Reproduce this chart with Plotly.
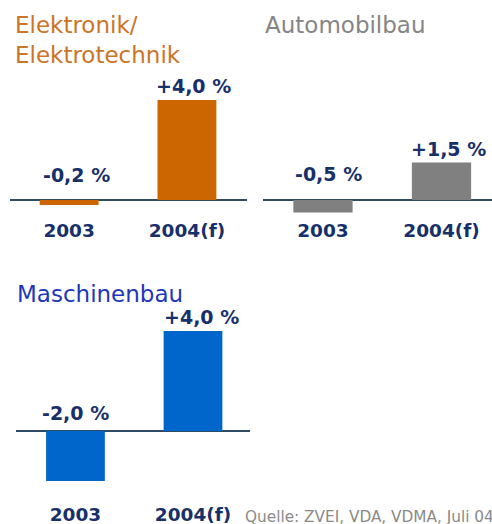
import plotly.graph_objects as go

W, H = 492, 524
PX_PER_UNIT = 25  # vertical scale shared by all three panels

# ---- data ----------------------------------------------------------------
years = ["2003", "2004(f)"]
elektro = [-0.2, 4.0]
automobil = [-0.5, 1.5]
maschinen = [-2.0, 4.0]
source_text = "Quelle: ZVEI, VDA, VDMA, Juli 04"

# ---- panel styling / placement (pixels) ---------------------------------
panels = [
    dict(title=["Elektronik/", "Elektrotechnik"], values=elektro,
         bar="#CC6600", tcolor="#CC7428",
         xpx=(10, 247), xrange=(-0.502, 1.51),
         ypx=(60, 217), zero=200,
         title_x=13, title_y=[25, 55], neg_shift=25, xshift=[7, 7]),
    dict(title=["Automobilbau"], values=automobil,
         bar="#808080", tcolor="#858585",
         xpx=(263, 492), xrange=(-0.506, 1.426),
         ypx=(60, 217), zero=200,
         title_x=263, title_y=[25], neg_shift=26, xshift=[6, 7]),
    dict(title=["Maschinenbau"], values=maschinen,
         bar="#0066CC", tcolor="#2236BC",
         xpx=(16, 250), xrange=(-0.506, 1.485),
         ypx=(300, 501), zero=431,
         title_x=15, title_y=[294], neg_shift=18, xshift=[0, 8]),
]

NAVY = "#17306A"
FONT = "DejaVu Sans"


def fmt(v):
    return f"{v:+.1f} %".replace(".", ",")


fig = go.Figure()
annotations = []

for i, p in enumerate(panels, start=1):
    sfx = "" if i == 1 else str(i)
    xa, ya = "x" + sfx, "y" + sfx

    fig.add_trace(go.Bar(
        x=years, y=p["values"], xaxis=xa, yaxis=ya,
        marker=dict(color=p["bar"], line=dict(width=0)),
        width=0.5, showlegend=False, hoverinfo="skip",
    ))

    top, bottom = p["ypx"]
    yrange = [-(bottom - p["zero"]) / PX_PER_UNIT, (p["zero"] - top) / PX_PER_UNIT]

    fig.update_layout(**{
        "xaxis" + sfx: dict(
            type="category",
            domain=[p["xpx"][0] / W, p["xpx"][1] / W],
            range=list(p["xrange"]), anchor=ya,
            showgrid=False, zeroline=False, showline=False, ticks="",
            tickfont=dict(family=FONT, size=18.5, color=NAVY, weight="bold"),
            fixedrange=True,
        ),
        "yaxis" + sfx: dict(
            domain=[1 - bottom / H, 1 - top / H],
            range=yrange, anchor=xa,
            showgrid=False, showticklabels=False, ticks="",
            zeroline=True, zerolinecolor="#2E4B66", zerolinewidth=1.5,
            fixedrange=True,
        ),
    })

    # value labels above each bar (negative values sit above the baseline)
    for j, v in enumerate(p["values"]):
        annotations.append(dict(
            x=j, y=max(v, 0), xref=xa, yref=ya,
            text=fmt(v), showarrow=False,
            xanchor="center", yanchor="middle",
            xshift=p["xshift"][j],
            yshift=p["neg_shift"] if v < 0 else 14,
            font=dict(family=FONT, size=19, color=NAVY, weight="bold"),
        ))

    # panel title
    for line, ty in zip(p["title"], p["title_y"]):
        annotations.append(dict(
            x=p["title_x"] / W, y=1 - ty / H, xref="paper", yref="paper",
            text=line, showarrow=False, xanchor="left", yanchor="middle",
            font=dict(family=FONT, size=23, color=p["tcolor"]),
        ))

# source line runs off the right edge of the page
annotations.append(dict(
    x=243 / W, y=1 - 517 / H, xref="paper", yref="paper",
    text=source_text, showarrow=False, xanchor="left", yanchor="middle",
    font=dict(family=FONT, size=15.3, color="#8A8A8A"),
))

fig.update_layout(
    width=W, height=H,
    margin=dict(l=0, r=0, t=0, b=0),
    paper_bgcolor="white", plot_bgcolor="rgba(0,0,0,0)",
    annotations=annotations,
    bargap=0.5,
)

fig.write_html("out.html", config=dict(displayModeBar=False, staticPlot=True))
